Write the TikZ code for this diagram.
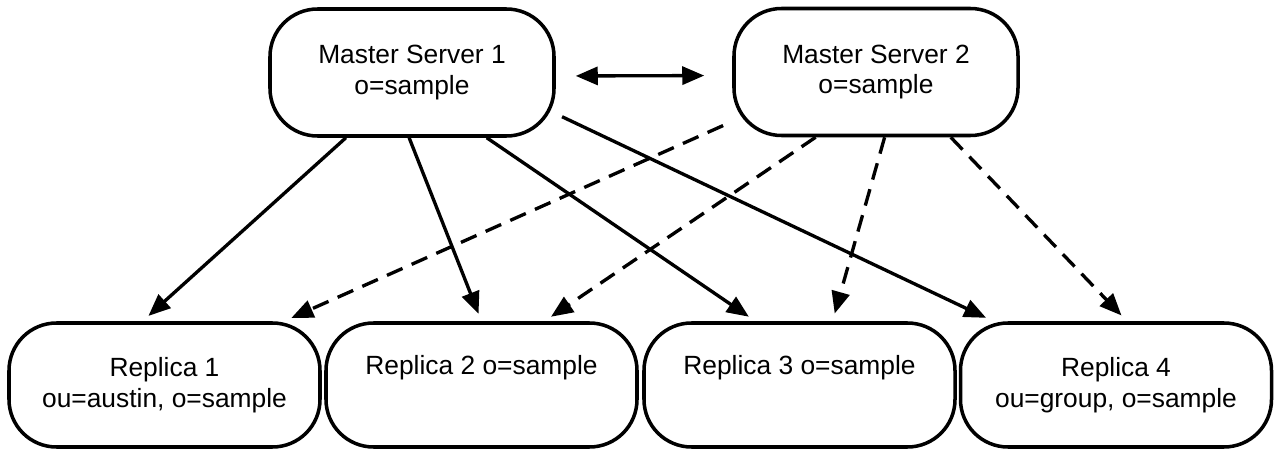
\documentclass[tikz,border=0pt]{standalone}
\usepackage{fontspec}
\setmainfont{Liberation Sans}
\usetikzlibrary{arrows.meta}
\usetikzlibrary{calc}
\tikzset{srv/.style = {draw, line width=2pt, rounded corners=0.95cm, align=center, inner sep=0pt,
                       font=\fontsize{15}{17.5}\selectfont},
         master/.style = {srv, minimum width=5.68cm, minimum height=2.54cm},
         replica/.style = {srv, minimum width=6.22cm, minimum height=2.48cm},
         link/.style = {line width=1.9pt, -{Triangle[length=0.44cm, width=0.36cm]}, shorten >=0.16cm},
         backup/.style = {link, dash pattern=on 0.34cm off 0.2cm}}

\begin{document}
\begin{tikzpicture}
      \useasboundingbox (0, 0) rectangle (25.48, 9);

      \node [master] (ms1) at (8.24, 7.55) {Master Server 1\\o=sample};
      \node [master] (ms2) at (17.52, 7.56) {Master Server 2\\o=sample};

      \node [replica] (rep1) at (3.29, 1.3) {Replica 1\\ou=austin, o=sample};
      \node [replica] (rep2) at (9.63, 1.3) {Replica 2 o=sample\\\strut};
      \node [replica] (rep3) at (15.99, 1.3) {Replica 3 o=sample\\\strut};
      \node [replica] (rep4) at (22.32, 1.3) {Replica 4\\ou=group, o=sample};

      \draw [line width=1.9pt, {Triangle[length=0.44cm, width=0.36cm]}-{Triangle[length=0.44cm, width=0.36cm]},
             shorten <=0.4cm, shorten >=0.56cm] ([yshift=-0.07cm]ms1.east) -- ([yshift=-0.07cm]ms2.west);

      % master server 1
      \draw [link] ($(ms1.south west)!0.27!(ms1.south east)$) -- ($(rep1.north west)!0.43!(rep1.north east)$);
      \draw [link] ($(ms1.south west)!0.49!(ms1.south east)$) -- ($(rep2.north west)!0.5!(rep2.north east)$);
      \draw [link] ($(ms1.south west)!0.76!(ms1.south east)$) -- ($(rep3.north west)!0.36!(rep3.north east)$);
      \draw [link, shorten <=0.14cm] (ms1.-16) -- ($(rep4.north west)!0.11!(rep4.north east)$);

      % master server 2
      \draw [backup, shorten <=0.2cm] (ms2.199) -- ($(rep1.north west)!0.88!(rep1.north east)$);
      \draw [backup] ($(ms2.south west)!0.29!(ms2.south east)$) -- ($(rep2.north west)!0.7!(rep2.north east)$);
      \draw [backup] ($(ms2.south west)!0.53!(ms2.south east)$) -- ($(rep3.north west)!0.605!(rep3.north east)$);
      \draw [backup] ($(ms2.south west)!0.76!(ms2.south east)$) -- ($(rep4.north west)!0.535!(rep4.north east)$);
\end{tikzpicture}
\end{document}
